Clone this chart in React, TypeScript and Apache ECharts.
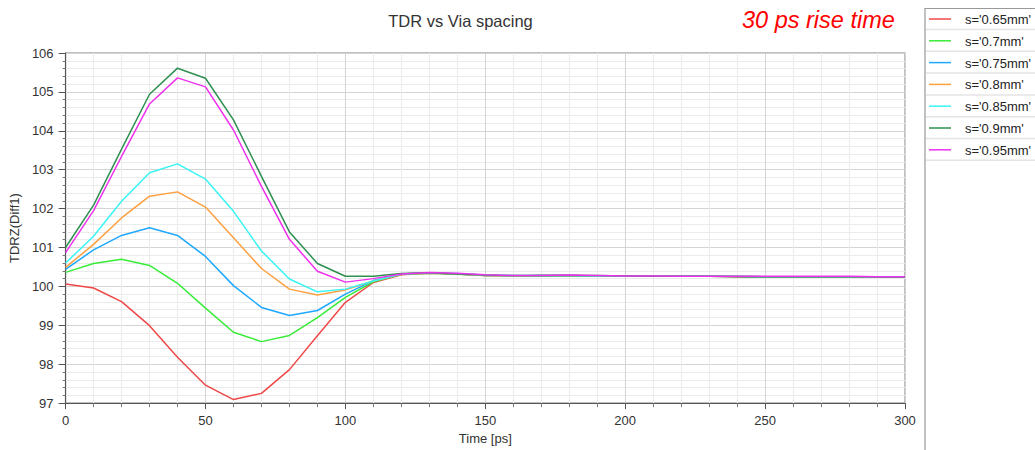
import React, { useEffect, useRef } from "react";
import * as echarts from "echarts";

const time = [0, 10, 20, 30, 40, 50, 60, 70, 80, 90, 100, 110, 120, 130, 140, 150, 160, 170, 180, 190, 200, 210, 220, 230, 240, 250, 260, 270, 280, 290, 300];

const seriesNames = ["s='0.65mm'", "s='0.7mm'", "s='0.75mm'", "s='0.8mm'", "s='0.85mm'", "s='0.9mm'", "s='0.95mm'"];
const seriesColors = ["#f04848", "#38ec38", "#1ea8ff", "#ffa040", "#38f4f4", "#2e9050", "#f030f0"];

const s065 = [100.06, 99.96, 99.61, 98.99, 98.18, 97.46, 97.09, 97.25, 97.86, 98.73, 99.59, 100.1, 100.3, 100.34, 100.32, 100.28, 100.27, 100.28, 100.28, 100.27, 100.27, 100.26, 100.26, 100.26, 100.25, 100.25, 100.25, 100.25, 100.25, 100.25, 100.24];
const s070 = [100.36, 100.59, 100.7, 100.54, 100.08, 99.44, 98.82, 98.58, 98.74, 99.2, 99.72, 100.12, 100.31, 100.34, 100.31, 100.28, 100.27, 100.27, 100.28, 100.27, 100.27, 100.26, 100.26, 100.26, 100.26, 100.25, 100.25, 100.25, 100.25, 100.25, 100.24];
const s075 = [100.44, 100.94, 101.31, 101.51, 101.31, 100.77, 100.02, 99.46, 99.25, 99.38, 99.8, 100.15, 100.32, 100.35, 100.32, 100.28, 100.27, 100.28, 100.28, 100.27, 100.27, 100.26, 100.26, 100.26, 100.26, 100.25, 100.25, 100.25, 100.25, 100.25, 100.24];
const s080 = [100.49, 101.08, 101.76, 102.32, 102.43, 102.04, 101.25, 100.46, 99.93, 99.78, 99.91, 100.14, 100.32, 100.35, 100.32, 100.28, 100.27, 100.28, 100.28, 100.27, 100.27, 100.26, 100.26, 100.26, 100.26, 100.25, 100.25, 100.25, 100.25, 100.25, 100.24];
const s085 = [100.6, 101.29, 102.19, 102.92, 103.15, 102.76, 101.93, 100.91, 100.19, 99.86, 99.93, 100.14, 100.32, 100.35, 100.33, 100.29, 100.28, 100.28, 100.28, 100.27, 100.27, 100.26, 100.26, 100.26, 100.26, 100.25, 100.25, 100.25, 100.25, 100.25, 100.24];
const s090 = [101.0, 102.09, 103.53, 104.94, 105.61, 105.35, 104.28, 102.83, 101.4, 100.59, 100.26, 100.26, 100.33, 100.35, 100.32, 100.29, 100.28, 100.28, 100.28, 100.28, 100.27, 100.26, 100.26, 100.26, 100.25, 100.25, 100.25, 100.25, 100.25, 100.25, 100.24];
const s095 = [100.87, 101.95, 103.34, 104.69, 105.36, 105.13, 104.02, 102.57, 101.21, 100.39, 100.11, 100.2, 100.32, 100.36, 100.34, 100.3, 100.28, 100.28, 100.29, 100.28, 100.27, 100.27, 100.26, 100.26, 100.26, 100.26, 100.26, 100.26, 100.26, 100.25, 100.25];

const seriesValues = [s065, s070, s075, s080, s085, s090, s095];

export default function App() {
  const ref = useRef<HTMLDivElement>(null);
  useEffect(() => {
    if (!ref.current) return;
    const chart = echarts.init(ref.current, null, { renderer: "svg" });
    const font = "Liberation Sans, Arial, sans-serif";
    const rowY0 = 19;
    const rowH = 21.8;
    const legendItems: any[] = [];
    seriesNames.forEach((n, i) => {
      const y = rowY0 + i * rowH;
      legendItems.push({
        type: "line",
        silent: true,
        shape: { x1: 929, y1: y, x2: 951, y2: y },
        style: { stroke: seriesColors[i], lineWidth: 1.5 },
      });
      legendItems.push({
        type: "text",
        silent: true,
        x: 965,
        y: y + 0.5,
        style: { text: n, fontSize: 13, fontFamily: font, fill: "#222", verticalAlign: "middle", align: "left" },
      });
      legendItems.push({
        type: "line",
        silent: true,
        shape: { x1: 926, y1: y + 10.5, x2: 1035, y2: y + 10.5 },
        style: { stroke: "#e4e4e4", lineWidth: 1.5 },
      });
    });
    chart.setOption({
      animation: false,
      backgroundColor: "#fff",
      textStyle: { fontFamily: font },
      graphic: [
        {
          type: "text",
          silent: true,
          x: 460.5,
          y: 20.5,
          style: { text: "TDR vs Via spacing", fontSize: 16.5, fontFamily: font, fill: "#333", align: "center", verticalAlign: "middle" },
        },
        {
          type: "text",
          silent: true,
          x: 742,
          y: 19.5,
          style: { text: "30 ps rise time", fontSize: 23.5, fontStyle: "italic", fontFamily: font, fill: "#ff0000", align: "left", verticalAlign: "middle" },
        },
        {
          type: "rect",
          silent: true,
          shape: { x: 925, y: 8.5, width: 120, height: 460 },
          style: { fill: "none", stroke: "#999", lineWidth: 1.2 },
        },
        ...legendItems,
      ],
      grid: { left: 64, right: 130, top: 53, bottom: 46, containLabel: false, show: true, borderColor: "#aaa", borderWidth: 1.5 },
      xAxis: {
        type: "value",
        min: 0,
        max: 300,
        interval: 50,
        name: "Time [ps]",
        nameLocation: "middle",
        nameGap: 28,
        nameTextStyle: { fontSize: 13, color: "#333", fontFamily: font },
        axisLine: { show: true, lineStyle: { color: "#555" } },
        axisTick: { show: true, length: 6, lineStyle: { color: "#555" } },
        minorTick: { show: true, splitNumber: 5, length: 4, lineStyle: { color: "#777" } },
        axisLabel: { fontSize: 13, color: "#333", margin: 11, fontFamily: font },
        splitLine: { show: true, lineStyle: { color: "#d4d4d4" } },
        minorSplitLine: { show: true, lineStyle: { color: "#ebebeb" } },
      },
      yAxis: {
        type: "value",
        min: 97,
        max: 106,
        interval: 1,
        name: "TDRZ(Diff1)",
        nameLocation: "middle",
        nameGap: 40,
        nameTextStyle: { fontSize: 13, color: "#333", fontFamily: font },
        axisLine: { show: true, lineStyle: { color: "#555" } },
        axisTick: { show: true, length: 7, lineStyle: { color: "#555" } },
        minorTick: { show: true, splitNumber: 5, length: 3, lineStyle: { color: "#777" } },
        axisLabel: { fontSize: 13, color: "#333", margin: 12, fontFamily: font },
        splitLine: { show: true, lineStyle: { color: "#d4d4d4" } },
        minorSplitLine: { show: true, lineStyle: { color: "#ebebeb" } },
      },
      series: seriesNames.map((n, i) => ({
        name: n,
        type: "line",
        showSymbol: false,
        symbol: "none",
        color: seriesColors[i],
        lineStyle: { width: 1.5, color: seriesColors[i] },
        data: time.map((t, j) => [t, seriesValues[i][j]]),
      })),
    });
    return () => chart.dispose();
  }, []);
  return <div ref={ref} style={{ width: 1035, height: 450, position: "absolute", left: 0, top: 0 }} />;
}
